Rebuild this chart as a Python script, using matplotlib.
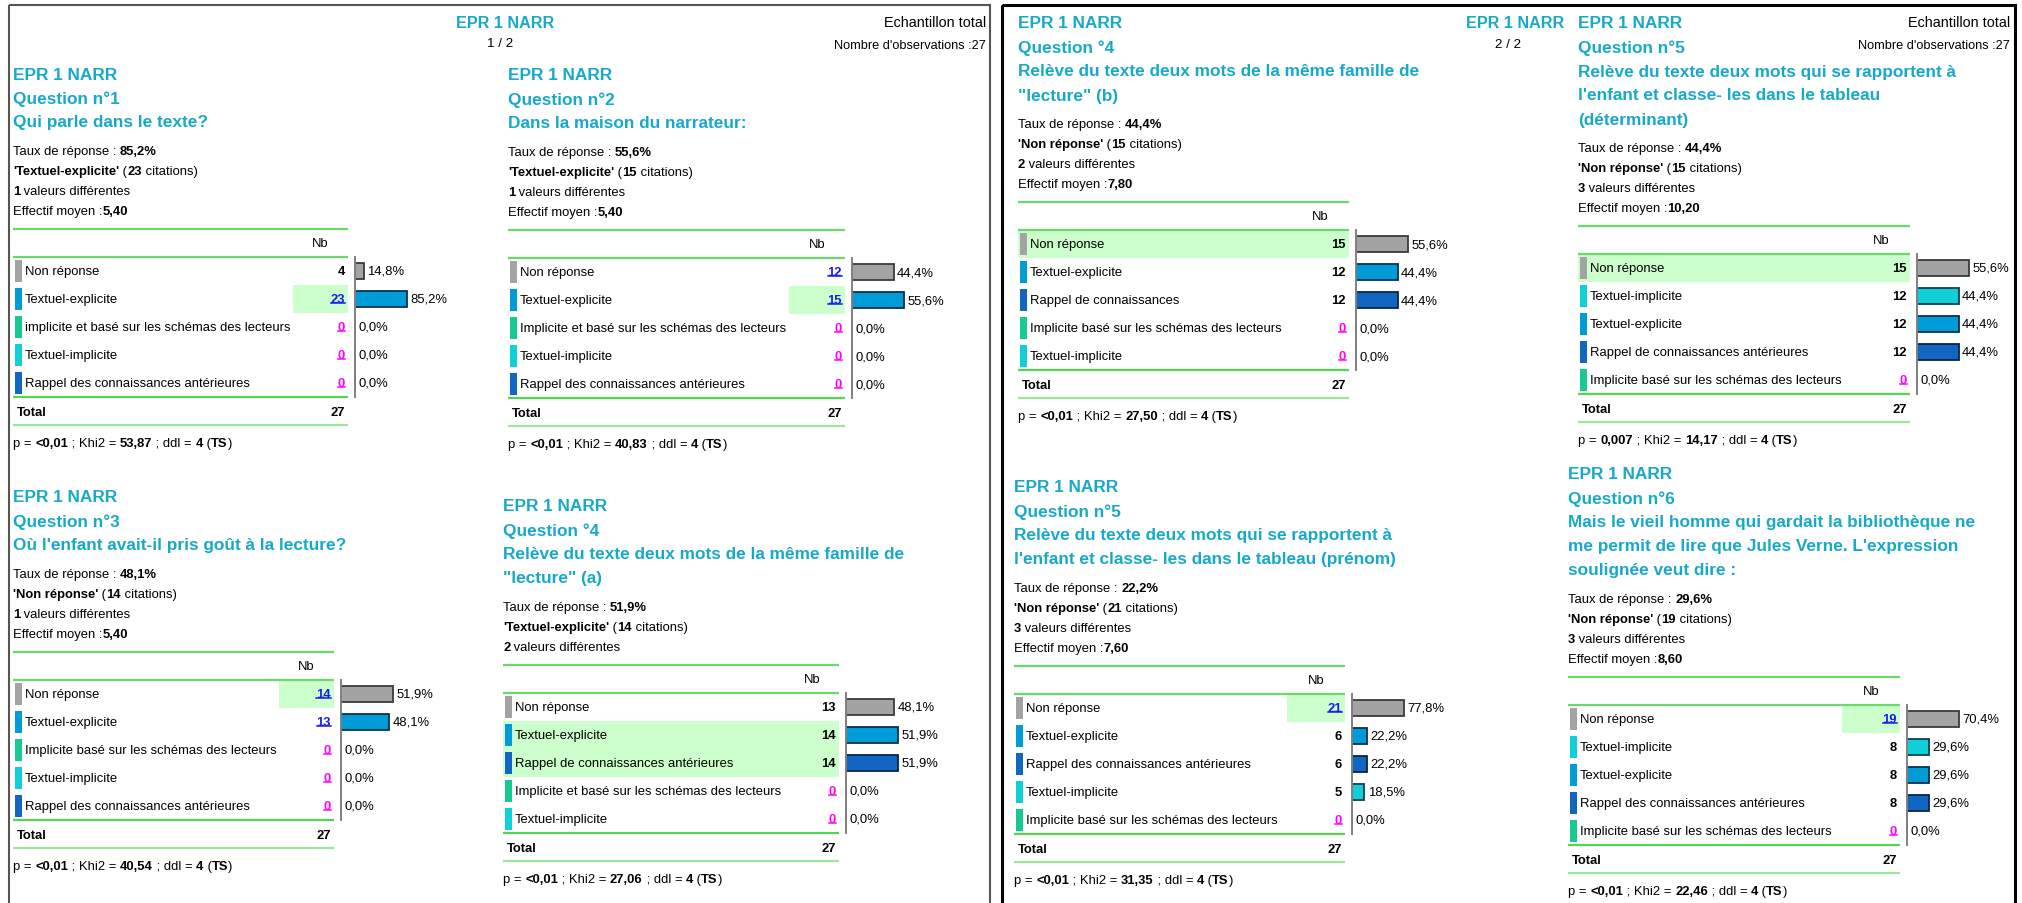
import matplotlib
matplotlib.use("Agg")
import matplotlib.pyplot as plt
from matplotlib.patches import Rectangle

W, H = 2022, 904
FONT = ["Liberation Sans", "DejaVu Sans"]
TITLE_C = "#17a9c9"
LINE_C = "#6ad86a"
LINE_C2 = "#9be69b"
HILITE = "#ccffcc"
LINK_C = "#1a1aee"
ZERO_C = "#ff00ff"

TITLE_FS = 12.4
BODY_FS = 9.4
ROW_FS = 9.4

N_OBS = 27

# --- question 1
q1_title = ["EPR 1 NARR", "Question n°1", "Qui parle dans le texte?"]
q1_labels = ["Non réponse", "Textuel-explicite",
             "implicite et basé sur les schémas des lecteurs",
             "Textuel-implicite", "Rappel des connaissances antérieures"]
q1_counts = [4, 23, 0, 0, 0]
q1_links = [0, 1, 0, 0, 0]
q1_stats = ["85,2%", "Textuel-explicite", "23", "1", "5,40"]
q1_test = ["<0,01", "53,87", "4", "TS"]

# --- question 2
q2_title = ["EPR 1 NARR", "Question n°2", "Dans la maison du narrateur:"]
q2_labels = ["Non réponse", "Textuel-explicite",
             "Implicite et basé sur les schémas des lecteurs",
             "Textuel-implicite", "Rappel des connaissances antérieures"]
q2_counts = [12, 15, 0, 0, 0]
q2_links = [1, 1, 0, 0, 0]
q2_stats = ["55,6%", "Textuel-explicite", "15", "1", "5,40"]
q2_test = ["<0,01", "40,83", "4", "TS"]

# --- question 3
q3_title = ["EPR 1 NARR", "Question n°3", "Où l'enfant avait-il pris goût à la lecture?"]
q3_labels = ["Non réponse", "Textuel-explicite",
             "Implicite basé sur les schémas des lecteurs",
             "Textuel-implicite", "Rappel des connaissances antérieures"]
q3_counts = [14, 13, 0, 0, 0]
q3_links = [1, 1, 0, 0, 0]
q3_stats = ["48,1%", "Non réponse", "14", "1", "5,40"]
q3_test = ["<0,01", "40,54", "4", "TS"]

# --- question 4 (a)
q4a_title = ["EPR 1 NARR", "Question °4",
             "Relève du texte deux mots de la même famille de", "\"lecture\" (a)"]
q4a_labels = ["Non réponse", "Textuel-explicite",
              "Rappel de connaissances antérieures",
              "Implicite et basé sur les schémas des lecteurs", "Textuel-implicite"]
q4a_counts = [13, 14, 14, 0, 0]
q4a_links = [0, 0, 0, 0, 0]
q4a_stats = ["51,9%", "Textuel-explicite", "14", "2", None]
q4a_test = ["<0,01", "27,06", "4", "TS"]

# --- question 4 (b)
q4b_title = ["EPR 1 NARR", "Question °4",
             "Relève du texte deux mots de la même famille de", "\"lecture\" (b)"]
q4b_labels = ["Non réponse", "Textuel-explicite", "Rappel de connaissances",
              "Implicite basé sur les schémas des lecteurs", "Textuel-implicite"]
q4b_counts = [15, 12, 12, 0, 0]
q4b_links = [0, 0, 0, 0, 0]
q4b_stats = ["44,4%", "Non réponse", "15", "2", "7,80"]
q4b_test = ["<0,01", "27,50", "4", "TS"]

# --- question 5 (déterminant)
q5a_title = ["EPR 1 NARR", "Question n°5",
             "Relève du texte deux mots qui se rapportent à",
             "l'enfant et classe- les dans le tableau", "(déterminant)"]
q5a_labels = ["Non réponse", "Textuel-implicite", "Textuel-explicite",
              "Rappel de connaissances antérieures",
              "Implicite basé sur les schémas des lecteurs"]
q5a_counts = [15, 12, 12, 12, 0]
q5a_links = [0, 0, 0, 0, 0]
q5a_stats = ["44,4%", "Non réponse", "15", "3", "10,20"]
q5a_test = ["0,007", "14,17", "4", "TS"]

# --- question 5 (prénom)
q5b_title = ["EPR 1 NARR", "Question n°5",
             "Relève du texte deux mots qui se rapportent à",
             "l'enfant et classe- les dans le tableau (prénom)"]
q5b_labels = ["Non réponse", "Textuel-explicite",
              "Rappel des connaissances antérieures", "Textuel-implicite",
              "Implicite basé sur les schémas des lecteurs"]
q5b_counts = [21, 6, 6, 5, 0]
q5b_links = [1, 0, 0, 0, 0]
q5b_stats = ["22,2%", "Non réponse", "21", "3", "7,60"]
q5b_test = ["<0,01", "31,35", "4", "TS"]

# --- question 6
q6_title = ["EPR 1 NARR", "Question n°6",
            "Mais le vieil homme qui gardait la bibliothèque ne",
            "me permit de lire que Jules Verne. L'expression",
            "soulignée veut dire :"]
q6_labels = ["Non réponse", "Textuel-implicite", "Textuel-explicite",
             "Rappel des connaissances antérieures",
             "Implicite basé sur les schémas des lecteurs"]
q6_counts = [19, 8, 8, 8, 0]
q6_links = [1, 0, 0, 0, 0]
q6_stats = ["29,6%", "Non réponse", "19", "3", "8,60"]
q6_test = ["<0,01", "22,46", "4", "TS"]


def cat_colors(label):
    # (chip / bar fill, bar edge)
    if label.startswith("Non"):
        return "#a3a3a3", "#3a3a3a"
    if label.startswith("Textuel-explicite"):
        return "#009cd8", "#0b2f4f"
    if label.startswith("Textuel-implicite"):
        return "#10cfd8", "#0b3f4f"
    if label.startswith("Rappel"):
        return "#1166c2", "#0a2448"
    return "#18c993", "#0b4f3a"


fig = plt.figure(figsize=(W / 100, H / 100), dpi=100)
fig.patch.set_facecolor("white")
ax = fig.add_axes([0, 0, 1, 1])
ax.set_xlim(0, W)
ax.set_ylim(H, 0)
ax.axis("off")
renderer = fig.canvas.get_renderer()


def txt(x, y, s, size=ROW_FS, bold=False, color="black", ha="left"):
    return ax.text(x, y, s, fontsize=size, fontweight="bold" if bold else "normal",
                   color=color, ha=ha, va="center", family=FONT)


def rich(x, y, parts, size=BODY_FS):
    for s, bold in parts:
        t = txt(x, y, s, size=size, bold=bold)
        x += t.get_window_extent(renderer).width


def hline(x0, x1, y, color=LINE_C, lw=1.6):
    ax.plot([x0, x1], [y, y], color=color, lw=lw, solid_capstyle="butt")


def draw_panel(title, labels, counts, links, stats, test,
               xl, yt, xr, xnb, xbar):
    for i, line in enumerate(title):
        txt(xl, yt + 24 * i, line, size=TITLE_FS, bold=True, color=TITLE_C)

    body = [[("Taux de réponse : ", False), (stats[0], True)],
            [("'" + stats[1] + "'", True), (" (", False), (stats[2], True),
             (" citations)", False)],
            [(stats[3], True), (" valeurs différentes", False)]]
    if stats[4] is not None:
        body.append([("Effectif moyen :", False), (stats[4], True)])
    yb = yt + 24 * (len(title) - 1) + 29
    for i, parts in enumerate(body):
        rich(xl, yb + 20 * i, parts)

    y_top = yb + 20 * (len(body) - 1) + 18
    y_head = y_top + 28
    y_tot = y_head + 140
    y_bot = y_tot + 28

    # highlighted maximum
    top = max(counts)
    for i, c in enumerate(counts):
        if c != top:
            continue
        yc = y_head + 14 + 28 * i
        x0 = xnb if links[i] else xl
        ax.add_patch(Rectangle((x0, yc - 14), xr - x0, 28, color=HILITE, lw=0, zorder=0))

    hline(xl, xr, y_top)
    hline(xl, xr, y_head)
    hline(xl, xr, y_tot, color="#55d455")
    hline(xl, xr, y_bot, color=LINE_C2)
    txt((xnb + xr) / 2, y_top + 14, "Nb", ha="center")

    xnum = xr - 3
    for i, (lab, c) in enumerate(zip(labels, counts)):
        yc = y_head + 14 + 28 * i
        fill, _ = cat_colors(lab)
        ax.add_patch(Rectangle((xl + 2, yc - 11), 7, 22, color=fill, lw=0))
        txt(xl + 12, yc, lab)
        if c == 0:
            col = ZERO_C
        elif links[i]:
            col = LINK_C
        else:
            col = "black"
        t = txt(xnum, yc, str(c), bold=True, color=col, ha="right")
        if col != "black":
            bb = t.get_window_extent(renderer)
            ax.plot([bb.x0, bb.x1], [H - bb.y0 - 2] * 2, color=col, lw=1.1)

    txt(xl + 4, y_tot + 15, "Total", bold=True)
    txt(xnum, y_tot + 15, str(N_OBS), bold=True, ha="right")

    rich(xl, y_bot + 18, [("p = ", False), (test[0], True), (" ; Khi2 = ", False),
                          (test[1], True), (" ; ddl = ", False), (test[2], True),
                          (" (", False), (test[3], True), (")", False)])

    # percentage bars
    pct = [c / N_OBS * 100 for c in counts]
    bw = 150
    bax = fig.add_axes([xbar / W, 1 - (y_head + 140) / H, bw / W, 140 / H])
    bax.set_ylim(len(counts) - 0.5, -0.5)
    bax.set_xlim(0, max(pct) * bw / 52)
    fills = [cat_colors(l)[0] for l in labels]
    edges = [cat_colors(l)[1] for l in labels]
    bax.barh(range(len(counts)), pct, height=16 / 28, color=fills,
             edgecolor=edges, linewidth=1.3)
    for i, p in enumerate(pct):
        s = f"{p:.1f}".replace(".", ",") + "%"
        bax.annotate(s, xy=(p, i), xytext=(2.4, 0), textcoords="offset points",
                     va="center", ha="left", fontsize=ROW_FS, family=FONT,
                     annotation_clip=False)
    for side in ["top", "right", "bottom"]:
        bax.spines[side].set_visible(False)
    bax.spines["left"].set_color("#808080")
    bax.spines["left"].set_linewidth(1.4)
    bax.set_xticks([])
    bax.set_yticks([])
    bax.patch.set_alpha(0)


# page frames
ax.add_patch(Rectangle((9, 6), 981, 920, fill=False, ec="#555555", lw=1.5))
ax.add_patch(Rectangle((1002, 6), 1013, 920, fill=False, ec="black", lw=2.2))

# page headers
txt(505, 23, "EPR 1 NARR", size=11.6, bold=True, color=TITLE_C, ha="center")
txt(500, 44, "1 / 2", size=9.6, ha="center")
txt(986, 23, "Echantillon total", size=10.4, ha="right")
txt(986, 46, "Nombre d'observations :27", size=9.2, ha="right")
txt(1515, 24, "EPR 1 NARR", size=11.6, bold=True, color=TITLE_C, ha="center")
txt(1508, 45, "2 / 2", size=9.6, ha="center")
txt(2010, 23, "Echantillon total", size=10.4, ha="right")
txt(2010, 46, "Nombre d'observations :27", size=9.2, ha="right")

draw_panel(q1_title, q1_labels, q1_counts, q1_links, q1_stats, q1_test,
           13, 75, 348, 293, 355)
draw_panel(q2_title, q2_labels, q2_counts, q2_links, q2_stats, q2_test,
           508, 76, 845, 789, 852)
draw_panel(q3_title, q3_labels, q3_counts, q3_links, q3_stats, q3_test,
           13, 498, 334, 279, 341)
draw_panel(q4a_title, q4a_labels, q4a_counts, q4a_links, q4a_stats, q4a_test,
           503, 507, 839, 785, 846)
draw_panel(q4b_title, q4b_labels, q4b_counts, q4b_links, q4b_stats, q4b_test,
           1018, 24, 1349, 1292, 1356)
draw_panel(q5a_title, q5a_labels, q5a_counts, q5a_links, q5a_stats, q5a_test,
           1578, 24, 1910, 1852, 1917)
draw_panel(q5b_title, q5b_labels, q5b_counts, q5b_links, q5b_stats, q5b_test,
           1014, 488, 1345, 1287, 1352)
draw_panel(q6_title, q6_labels, q6_counts, q6_links, q6_stats, q6_test,
           1568, 475, 1900, 1842, 1907)

fig.savefig("out.png", dpi=100)
